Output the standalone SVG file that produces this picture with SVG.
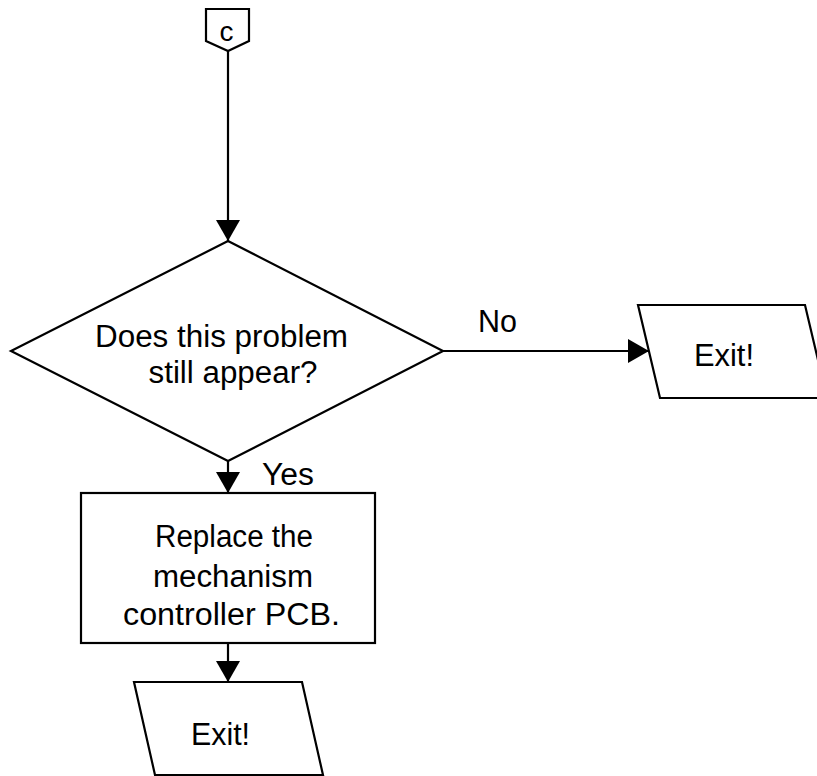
<svg xmlns="http://www.w3.org/2000/svg" width="817" height="776" viewBox="0 0 817 776">
<style>
.shape{fill:#fff;stroke:#000;stroke-width:2.2;stroke-linejoin:miter}
.edge{fill:none;stroke:#000;stroke-width:2.2}
.t{font-family:"Liberation Sans",Arial,sans-serif;font-size:31px;fill:#000}
</style>
<defs>
<marker id="arr" viewBox="0 0 21 24" refX="21" refY="12" markerWidth="21" markerHeight="24" markerUnits="userSpaceOnUse" orient="auto">
<path d="M0,0 L21,12 L0,24 Z" fill="#000"/>
</marker>
</defs>
<rect width="817" height="776" fill="#fff"/>
<g id="connectors">
<path class="edge" d="M228,51 L228,241" marker-end="url(#arr)"/>
<path class="edge" d="M228,461 L228,493" marker-end="url(#arr)"/>
<path class="edge" d="M443,351 L649,351" marker-end="url(#arr)"/>
<path class="edge" d="M228,643 L228,682" marker-end="url(#arr)"/>
</g>
<g id="offpage-c">
<path class="shape" d="M206,9 L249,9 L249,41 L228,51 L206,41 Z"/>
<text class="t" x="219.5" y="41" style="font-size:28px">c</text>
</g>
<g id="decision">
<path class="shape" d="M228,241 L443,351 L228,461 L11,351 Z"/>
<text class="t" x="95" y="347" textLength="253" lengthAdjust="spacingAndGlyphs">Does this problem</text>
<text class="t" x="148.5" y="383" textLength="169" lengthAdjust="spacingAndGlyphs">still appear?</text>
</g>
<g id="label-no"><text class="t" x="478" y="332" textLength="39" lengthAdjust="spacingAndGlyphs">No</text></g>
<g id="label-yes"><text class="t" x="262" y="485" textLength="52" lengthAdjust="spacingAndGlyphs">Yes</text></g>
<g id="exit-right">
<path class="shape" d="M638,305 L805,305 L827,398 L660,398 Z"/>
<text class="t" x="694" y="366" textLength="60" lengthAdjust="spacingAndGlyphs">Exit!</text>
</g>
<g id="replace">
<rect class="shape" x="81" y="493" width="294" height="150"/>
<text class="t" x="155" y="547" textLength="158" lengthAdjust="spacingAndGlyphs">Replace the</text>
<text class="t" x="153" y="587" textLength="160" lengthAdjust="spacingAndGlyphs">mechanism</text>
<text class="t" x="123" y="625" textLength="217" lengthAdjust="spacingAndGlyphs">controller PCB.</text>
</g>
<g id="exit-bottom">
<path class="shape" d="M134,682 L302,682 L323,775 L155,775 Z"/>
<text class="t" x="191" y="745" textLength="59" lengthAdjust="spacingAndGlyphs">Exit!</text>
</g>
</svg>
